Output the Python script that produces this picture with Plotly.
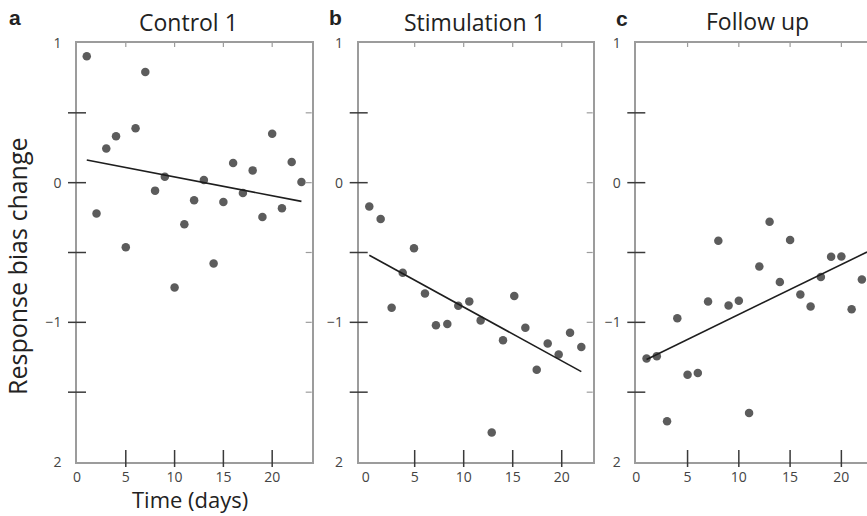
import numpy as np
import plotly.graph_objects as go

# ---- data -------------------------------------------------------------
panel_titles = ["Control 1", "Stimulation 1", "Follow up"]
panel_letters = ["a", "b", "c"]

control_days = [1, 2, 3, 4, 5, 6, 7, 8, 9, 10, 11, 12, 13, 14, 15, 16, 17, 18, 19, 20, 21, 22, 23]
control_bias = [0.905, -0.221, 0.245, 0.333, -0.462, 0.39, 0.793, -0.057, 0.043, -0.75,
                -0.298, -0.126, 0.019, -0.579, -0.138, 0.14, -0.074, 0.088, -0.245, 0.35,
                -0.183, 0.148, 0.005]

stim_days = [0.37, 1.53, 2.65, 3.78, 4.93, 6.05, 7.17, 8.33, 9.45, 10.57, 11.73, 12.86,
             14.01, 15.16, 16.29, 17.45, 18.57, 19.69, 20.85, 22.0]
stim_bias = [-0.171, -0.26, -0.895, -0.645, -0.469, -0.793, -1.021, -1.012, -0.881, -0.85,
             -0.986, -1.788, -1.129, -0.812, -1.038, -1.34, -1.152, -1.231, -1.074, -1.176]

follow_days = [1, 2, 3, 4, 5, 6, 7, 8, 9, 10, 11, 12, 13, 14, 15, 16, 17, 18, 19, 20, 21, 22]
follow_bias = [-1.259, -1.242, -1.708, -0.97, -1.376, -1.362, -0.851, -0.416, -0.88, -0.846,
               -1.649, -0.6, -0.28, -0.712, -0.411, -0.8, -0.887, -0.676, -0.53, -0.528,
               -0.906, -0.693]

x_tick_vals = [0, 5, 10, 15, 20]
x_tick_text = ["0", "5", "10", "15", "20"]
y_tick_vals = [1, 0, -1, -2]
y_tick_text = ["1", "0", "\u22121", "2"]
y_minor_vals = [0.5, 0, -0.5, -1, -1.5]
x_minor_vals = [5, 10, 15, 20]

# ---- layout geometry --------------------------------------------------
W, H = 867, 516
FONT = "Open Sans"
AXIS_GREY = "#9c9c9c"
TICK_DARK = "#3a3a3a"
DOT = "#5c5c5c"

panels = [
    dict(x=control_days, y=control_bias, px=(77, 311.7), xr=(0, 24.05), right=True, extend=False),
    dict(x=stim_days, y=stim_bias, px=(358.7, 592.7), xr=(-0.71, 23.16), right=True, extend=False),
    dict(x=follow_days, y=follow_bias, px=(636.3, 867), xr=(0, 22.5), right=False, extend=True),
]
plot_top, plot_bot = 43, 462
y_dom = [(H - plot_bot) / H, (H - plot_top) / H]
plot_h = plot_bot - plot_top

fig = go.Figure()
shapes = []
layout_axes = {}

for k, p in enumerate(panels):
    n = "" if k == 0 else str(k + 1)
    xa, ya = "x" + n, "y" + n
    x = np.asarray(p["x"], float)
    y = np.asarray(p["y"], float)
    width = p["px"][1] - p["px"][0]

    fig.add_trace(go.Scatter(
        x=x, y=y, mode="markers", xaxis=xa, yaxis=ya,
        marker=dict(color=DOT, size=8.5, line=dict(width=0)),
        showlegend=False, hoverinfo="x+y",
    ))

    # least-squares trend line
    slope, icpt = np.polyfit(x, y, 1)
    x_hi = p["xr"][1] if p["extend"] else x.max()
    xl = np.array([x.min(), x_hi])
    fig.add_trace(go.Scatter(
        x=xl, y=slope * xl + icpt, mode="lines", xaxis=xa, yaxis=ya,
        line=dict(color="#1e1e1e", width=1.6), showlegend=False, hoverinfo="skip",
    ))

    layout_axes["xaxis" + n] = dict(
        domain=[p["px"][0] / W, p["px"][1] / W], range=list(p["xr"]), anchor=ya,
        showline=True, linecolor=AXIS_GREY, linewidth=1.6, mirror=True,
        showgrid=False, zeroline=False, ticks="", automargin=False,
        tickvals=x_tick_vals, ticktext=x_tick_text,
        tickfont=dict(family=FONT, size=14, color="#444"), ticklabelstandoff=1,
    )
    layout_axes["yaxis" + n] = dict(
        domain=y_dom, range=[-2, 1], anchor=xa,
        showline=True, linecolor=AXIS_GREY, linewidth=1.6, mirror=p["right"],
        showgrid=False, zeroline=False, ticks="", automargin=False,
        tickvals=y_tick_vals, ticktext=y_tick_text,
        tickfont=dict(family=FONT, size=14, color="#444"), ticklabelstandoff=11,
    )

    # crossing ticks on the left spine
    for v in y_minor_vals:
        shapes.append(dict(type="line", xref=xa + " domain", yref=ya,
                           x0=-9 / width, x1=9 / width, y0=v, y1=v,
                           line=dict(color=TICK_DARK, width=1.5)))
        if p["right"]:
            shapes.append(dict(type="line", xref=xa + " domain", yref=ya,
                               x0=1 - 6 / width, x1=1, y0=v, y1=v,
                               line=dict(color=AXIS_GREY, width=1.2)))
    # crossing ticks on the bottom spine, small inward ticks on top
    for v in x_minor_vals:
        shapes.append(dict(type="line", xref=xa, yref=ya + " domain",
                           x0=v, x1=v, y0=-5 / plot_h, y1=12 / plot_h,
                           line=dict(color=TICK_DARK, width=1.5)))
        shapes.append(dict(type="line", xref=xa, yref=ya + " domain",
                           x0=v, x1=v, y0=1 - 4 / plot_h, y1=1,
                           line=dict(color=AXIS_GREY, width=1.2)))

annotations = []
title_pos = [(188, 22), (475, 22), (757, 21)]
letter_pos = [(15, 18), (335, 18), (622, 19)]
for k in range(3):
    tx, ty = title_pos[k]
    annotations.append(dict(text=panel_titles[k], x=tx / W, y=(H - ty) / H,
                            xref="paper", yref="paper", xanchor="center", yanchor="middle",
                            showarrow=False, font=dict(family=FONT, size=23, color="#222")))
    lx, ly = letter_pos[k]
    annotations.append(dict(text="<b>%s</b>" % panel_letters[k], x=lx / W, y=(H - ly) / H,
                            xref="paper", yref="paper", xanchor="center", yanchor="middle",
                            showarrow=False, font=dict(family="Liberation Sans", size=21, color="#222")))

annotations.append(dict(text="Response bias change", x=17 / W, y=(H - 266) / H,
                        xref="paper", yref="paper", xanchor="center", yanchor="middle",
                        textangle=-90, showarrow=False,
                        font=dict(family=FONT, size=25, color="#222")))
annotations.append(dict(text="Time (days)", x=190 / W, y=(H - 499) / H,
                        xref="paper", yref="paper", xanchor="center", yanchor="middle",
                        showarrow=False, font=dict(family=FONT, size=22, color="#222")))

fig.update_layout(
    width=W, height=H, margin=dict(l=0, r=0, t=0, b=0, autoexpand=False),
    paper_bgcolor="white", plot_bgcolor="white",
    shapes=shapes, annotations=annotations, showlegend=False,
    **layout_axes,
)

fig.write_html("out.html")
